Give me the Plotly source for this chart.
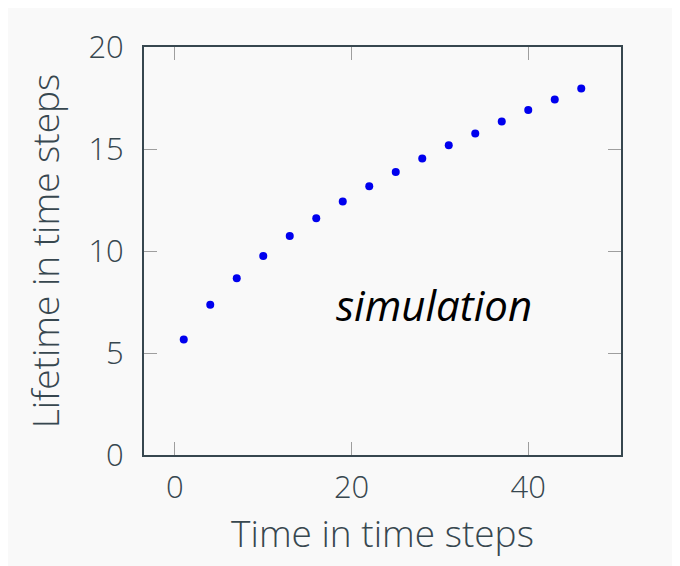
import plotly.graph_objects as go

# Data
time_steps = [1, 4, 7, 10, 13, 16, 19, 22, 25, 28, 31, 34, 37, 40, 43, 46]
lifetime = [5.66, 7.36, 8.67, 9.76, 10.74, 11.61, 12.43, 13.18, 13.87, 14.54,
            15.18, 15.76, 16.35, 16.91, 17.43, 17.96]
x_ticks = [0, 20, 40]
y_ticks = [0, 5, 10, 15, 20]

TEXT = "#37474f"
BG = "#f9f9f9"
FONT = "Open Sans"

fig = go.Figure()
fig.add_trace(go.Scatter(
    x=time_steps, y=lifetime, mode="markers",
    marker=dict(size=8, color="#0000ee"),
    showlegend=False, hoverinfo="x+y",
))

fig.add_annotation(
    x=29.3, y=7.4, xref="x", yref="y", text="<i>simulation</i>",
    showarrow=False, font=dict(family=FONT, size=42, color="black"),
)

axis_common = dict(
    showgrid=False, zeroline=False,
    showline=True, linecolor="#37474f", linewidth=2, mirror="ticks",
    ticks="inside", ticklen=13, tickwidth=1, tickcolor="#9e9e9e",
    tickfont=dict(family=FONT, size=31, color=TEXT, weight=300),
)

fig.update_xaxes(range=[-3.5, 50.5], tickvals=x_ticks,
                 title=dict(text="Time in time steps", standoff=10,
                            font=dict(family=FONT, size=37, color=TEXT, weight=300)),
                 ticklabelstandoff=4, **axis_common)
fig.update_yaxes(range=[0, 20], tickvals=y_ticks,
                 title=dict(text="Lifetime in time steps", standoff=17,
                            font=dict(family=FONT, size=37, color=TEXT, weight=300)),
                 ticklabelstandoff=12, **axis_common)

fig.update_layout(
    width=680, height=566,
    margin=dict(l=136, r=67, t=39, b=119),
    paper_bgcolor=BG, plot_bgcolor=BG,
    font=dict(family=FONT, color=TEXT),
)

fig.write_html("out.html")
